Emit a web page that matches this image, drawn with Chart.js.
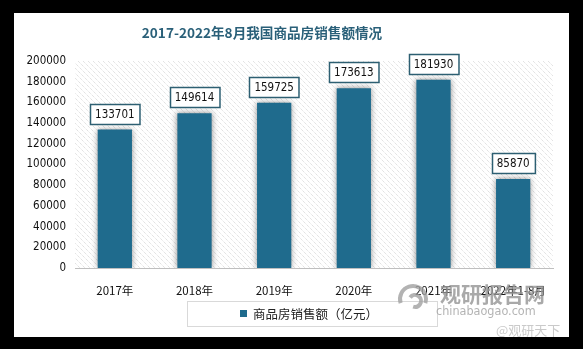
<!DOCTYPE html>
<html>
<head>
<meta charset="utf-8">
<script src="https://cdn.jsdelivr.net/npm/chart.js@4/dist/chart.umd.min.js"></script>
<style>
  html, body { margin: 0; padding: 0; background: #000; }
  #wrap { width: 583px; height: 349px; }
</style>
</head>
<body>
<div id="wrap"><canvas id="c" width="583" height="349"></canvas></div>
<script>
// Chart data
const titleText = '2017-2022年8月我国商品房销售额情况';
const categories = ['2017年', '2018年', '2019年', '2020年', '2021年', '2022年1-8月'];
const salesValues = [133701, 149614, 159725, 173613, 181930, 85870];
const seriesLabel = '商品房销售额（亿元）';
const yTicks = [0, 20000, 40000, 60000, 80000, 100000, 120000, 140000, 160000, 180000, 200000];

const BAR_COLOR = '#1f6b8d';
const FONT = '"DejaVu Sans Condensed", "DejaVu Sans", Verdana, sans-serif';
const CJK = '"Noto Sans CJK SC", "DejaVu Sans", sans-serif';

// Card background, title and hatched plot area
const backdrop = {
  id: 'backdrop',
  beforeDraw(chart) {
    const ctx = chart.ctx;
    const a = chart.chartArea;
    ctx.save();
    ctx.fillStyle = '#000';
    ctx.fillRect(0, 0, chart.width, chart.height);
    ctx.fillStyle = '#fff';
    ctx.fillRect(14, 13, 555, 324);

    // diagonal hatch
    ctx.beginPath();
    ctx.rect(a.left, a.top, a.right - a.left, a.bottom - a.top);
    ctx.clip();
    ctx.strokeStyle = '#d6d6d6';
    ctx.lineWidth = 1;
    ctx.setLineDash([1, 1]);
    const h = a.bottom - a.top;
    for (let x = a.left - h; x < a.right; x += 5) {
      ctx.beginPath();
      ctx.moveTo(x, a.top);
      ctx.lineTo(x + h, a.bottom);
      ctx.stroke();
    }
    ctx.restore();

    ctx.save();
    ctx.fillStyle = '#2a6079';
    ctx.font = 'bold 13.6px ' + CJK;
    ctx.textAlign = 'center';
    ctx.textBaseline = 'middle';
    ctx.fillText(titleText, 262, 33);
    ctx.restore();
  }
};

// Soft shadow behind the bars
const barShadow = {
  id: 'barShadow',
  beforeDatasetDraw(chart) {
    const ctx = chart.ctx;
    ctx.save();
    ctx.shadowColor = 'rgba(0,0,0,0.45)';
    ctx.shadowBlur = 6;
    ctx.shadowOffsetX = 0;
    ctx.shadowOffsetY = 0;
  },
  afterDatasetDraw(chart) {
    chart.ctx.restore();
  }
};

// Boxed value labels above each bar
const valueLabels = {
  id: 'valueLabels',
  afterDatasetsDraw(chart) {
    const ctx = chart.ctx;
    const meta = chart.getDatasetMeta(0);
    const data = chart.data.datasets[0].data;
    ctx.save();
    ctx.font = '11.5px ' + FONT;
    ctx.textAlign = 'center';
    ctx.textBaseline = 'middle';
    meta.data.forEach((bar, i) => {
      const txt = String(data[i]);
      const w = ctx.measureText(txt).width + 10;
      const hgt = 20;
      const bottom = bar.y - 6;
      const x0 = Math.round(bar.x - w / 2) + 0.5;
      const y0 = Math.round(bottom - hgt) + 0.5;
      ctx.fillStyle = '#fff';
      ctx.fillRect(x0, y0, w, hgt);
      ctx.strokeStyle = '#2d5f72';
      ctx.lineWidth = 1.5;
      ctx.strokeRect(x0, y0, w, hgt);
      ctx.fillStyle = '#111';
      ctx.fillText(txt, bar.x, y0 + hgt / 2 + 0.5);
    });
    ctx.restore();
  }
};

// Framed legend below the axis, plus site marks
const legendBox = {
  id: 'legendBox',
  afterDraw(chart) {
    const ctx = chart.ctx;
    const ds = chart.data.datasets[0];
    ctx.save();
    ctx.strokeStyle = '#d9d9d9';
    ctx.lineWidth = 1;
    ctx.strokeRect(187.5, 301.5, 250, 25);
    ctx.fillStyle = ds.backgroundColor;
    ctx.fillRect(240, 310, 7, 7);
    ctx.fillStyle = '#222';
    ctx.font = '12.5px ' + CJK;
    ctx.textAlign = 'left';
    ctx.textBaseline = 'middle';
    ctx.fillText(ds.label, 253, 314);

    // site marks
    ctx.globalAlpha = 0.8;
    ctx.strokeStyle = '#a0a0a0';
    ctx.lineWidth = 4;
    ctx.beginPath();
    ctx.arc(413, 299, 13, Math.PI * 0.9, Math.PI * 2.1);
    ctx.stroke();
    ctx.beginPath();
    ctx.arc(415, 301, 6, Math.PI * 1.2, Math.PI * 2.6);
    ctx.stroke();
    ctx.fillStyle = '#939393';
    ctx.font = 'bold 21px ' + CJK;
    ctx.textAlign = 'left';
    ctx.fillText('观研报告网', 440, 294);
    ctx.fillStyle = '#a0a0a0';
    ctx.font = '12.5px ' + FONT;
    ctx.fillText('chinabaogao.com', 436, 312);
    ctx.fillStyle = '#bdbdbd';
    ctx.font = '13px ' + CJK;
    ctx.fillText('@观研天下', 496, 330);
    ctx.restore();
  }
};

new Chart(document.getElementById('c'), {
  type: 'bar',
  data: {
    labels: categories,
    datasets: [{
      label: seriesLabel,
      data: salesValues,
      backgroundColor: BAR_COLOR,
      borderWidth: 0,
      categoryPercentage: 1,
      barPercentage: 0.43
    }]
  },
  options: {
    responsive: false,
    animation: false,
    devicePixelRatio: 1,
    layout: { padding: { left: 14, right: 30, top: 61, bottom: 51 } },
    plugins: {
      legend: { display: false },
      title: { display: false },
      tooltip: { enabled: false }
    },
    scales: {
      x: {
        grid: { display: false },
        border: { display: true, color: '#bfbfbf', width: 1 },
        ticks: { color: '#111', font: { family: CJK, size: 11.5 }, padding: 8, maxRotation: 0, autoSkip: false },
        afterFit(s) { s.height = 30; }
      },
      y: {
        min: 0,
        max: 200000,
        afterBuildTicks(s) { s.ticks = yTicks.map(v => ({ value: v })); },
        grid: { display: false, drawTicks: false },
        border: { display: false },
        ticks: { color: '#111', font: { family: FONT, size: 11.5 }, padding: 9, callback: v => String(v) },
        afterFit(s) { s.width = 61; }
      }
    }
  },
  plugins: [backdrop, barShadow, valueLabels, legendBox]
});
</script>
</body>
</html>
